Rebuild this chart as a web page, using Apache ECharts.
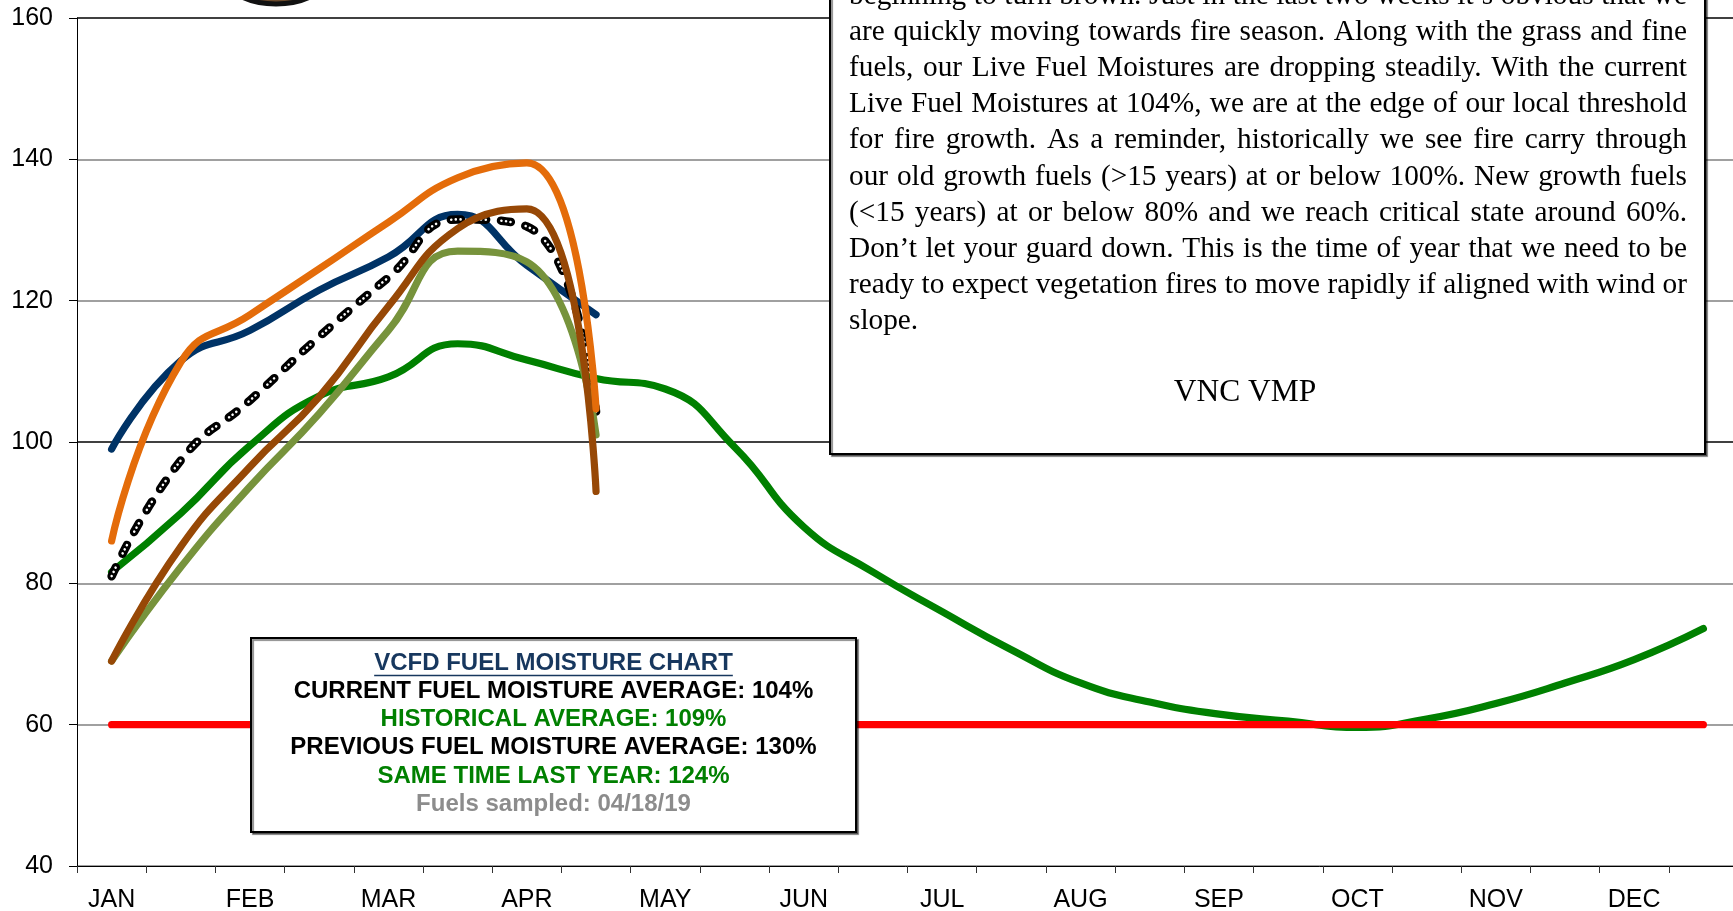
<!DOCTYPE html>
<html><head><meta charset="utf-8">
<script src="https://cdn.jsdelivr.net/npm/echarts@6/dist/echarts.min.js"></script>
<style>html,body{margin:0;padding:0;background:#fff;overflow:hidden}#c{width:1733px;height:911px}</style>
</head><body><div id="c"></div>
<script>
// ---------- data ----------
const months = ['JAN','FEB','MAR','APR','MAY','JUN','JUL','AUG','SEP','OCT','NOV','DEC'];
const yMin = 40, yMax = 160, yStep = 20;
// half-month sample points (two per month)
const seriesNavy   = [99, 111.5, 115.8, 121.5, 126.2, 132.2, 125, 118];
const seriesOrange = [86, 111.3, 118, 124.5, 131.1, 137.4, 139.5, 104.7];
const seriesCurrent= [81, 97.4, 105.9, 114.9, 123.3, 131.5, 130.5, 104.3];
const seriesBrown  = [69, 85.2, 96.5, 106.4, 119.2, 130.2, 133, 93];
const seriesOlive  = [69, 82.3, 93.7, 104, 115.8, 127, 125.5, 101];
const seriesHistorical = [81.6, 89.9, 99.5, 106.5, 109.2, 113.9, 111.6, 109, 107.5, 99.3, 88, 81.6, 76, 70.6, 65.9, 63.2, 61.5, 60.5, 59.6, 60.8, 63, 65.9, 69.2, 73.6];
const thresholdValue = 60;
const thresholdSeries = months.flatMap(() => [thresholdValue, thresholdValue]);

const noteLines = [
  'beginning to turn brown. Just in the last two weeks it\u2019s obvious that we',
  'are quickly moving towards fire season. Along with the grass and fine',
  'fuels, our Live Fuel Moistures are dropping steadily. With the current',
  'Live Fuel Moistures at 104%, we are at the edge of our local threshold',
  'for fire growth. As a reminder, historically we see fire carry through',
  'our old growth fuels (>15 years) at or below 100%. New growth fuels',
  '(<15 years) at or below 80% and we reach critical state around 60%.',
  'Don\u2019t let your guard down. This is the time of year that we need to be',
  'ready to expect vegetation fires to move rapidly if aligned with wind or',
  'slope.'
];
const noteSignature = 'VNC VMP';
const infoLines = [
  'VCFD FUEL MOISTURE CHART',
  'CURRENT FUEL MOISTURE AVERAGE: 104%',
  'HISTORICAL AVERAGE: 109%',
  'PREVIOUS FUEL MOISTURE AVERAGE: 130%',
  'SAME TIME LAST YEAR: 124%',
  'Fuels sampled: 04/18/19'
];
const infoColors = ['#17375E','#000000','#008000','#000000','#008000','#8C8C8C'];

// ---------- chart ----------
const categories = months.flatMap(m => [m, m + ' 15']);
const chart = echarts.init(document.getElementById('c'), null, {renderer:'canvas'});

const mctx = document.createElement('canvas').getContext('2d');
function tw(t, font){ mctx.font = font; return mctx.measureText(t).width; }

const serif = '"Liberation Serif","Times New Roman",serif';
const sans = '"Liberation Sans",Arial,sans-serif';

const graphics = [];
// logo fragment at top
graphics.push({type:'ellipse', shape:{cx:276, cy:-20, rx:48, ry:24}, style:{fill:'#6b4a2c', stroke:'#111', lineWidth:5}, z:100});

// note box
const nb = {x:830, y:-10, w:875, h:464};
graphics.push({type:'rect', shape:{x:nb.x, y:nb.y, width:nb.w, height:nb.h}, style:{fill:'#fff', stroke:'#000', lineWidth:2, shadowColor:'rgba(0,0,0,0.45)', shadowOffsetX:2, shadowOffsetY:2, shadowBlur:1}, z:100});
const textLeft = 849, textRight = 1687, textW = textRight - textLeft;
let maxNat = 0;
noteLines.forEach(l => { maxNat = Math.max(maxNat, tw(l, '100px ' + serif) / 100); });
const noteFs = Math.min(30, Math.floor(textW / maxNat * 10) / 10);
const noteFont = noteFs + 'px ' + serif;
const lineY0 = -4, lineStep = 36.2;
noteLines.forEach((line, k) => {
  const y = lineY0 + k * lineStep;
  const words = line.split(' ');
  const last = k === noteLines.length - 1;
  if (last || words.length < 2) {
    graphics.push({type:'text', x:textLeft, y, style:{text:line, font:noteFont, fill:'#000', verticalAlign:'middle', align:'left'}, z:101});
    return;
  }
  const widths = words.map(w => tw(w, noteFont));
  const sum = widths.reduce((a,b)=>a+b,0);
  const gap = (textW - sum) / (words.length - 1);
  let x = textLeft;
  words.forEach((w, j) => {
    graphics.push({type:'text', x, y, style:{text:w, font:noteFont, fill:'#000', verticalAlign:'middle', align:'left'}, z:101});
    x += widths[j] + gap;
  });
});
graphics.push({type:'text', x:1245, y:393, style:{text:noteSignature, font:'31.5px ' + serif, fill:'#000', verticalAlign:'middle', align:'center'}, z:101});

// info box
const ib = {x:251, y:638, w:605, h:194};
graphics.push({type:'rect', shape:{x:ib.x, y:ib.y, width:ib.w, height:ib.h}, style:{fill:'#fff', stroke:'#000', lineWidth:2, shadowColor:'rgba(0,0,0,0.45)', shadowOffsetX:2, shadowOffsetY:2, shadowBlur:1}, z:100});
const infoFont = 'bold 24px ' + sans;
const icx = ib.x + ib.w / 2;
infoLines.forEach((t, k) => {
  const y = 663.5 + k * 28.1;
  graphics.push({type:'text', x:icx, y, style:{text:t, font:infoFont, fill:infoColors[k], align:'center', verticalAlign:'middle'}, z:101});
  if (k === 0) {
    const w = tw(t, infoFont);
    graphics.push({type:'line', shape:{x1:icx - w/2, y1:675.5, x2:icx + w/2, y2:675.5}, style:{stroke:infoColors[0], lineWidth:1.6}, z:101});
  }
});

function lineSeries(name, data, color, z, extra) {
  return Object.assign({
    type:'line', name, data, smooth:0.5, symbol:'none', silent:true, z,
    lineStyle:{color, width:7.2, cap:'round', join:'round'}
  }, extra || {});
}

const option = {
  animation:false,
  backgroundColor:'#fff',
  grid:{left:77, top:18, width:1661, height:848, containLabel:false, outerBoundsMode:'none'},
  xAxis:{
    type:'category', data:categories, boundaryGap:true,
    axisLine:{show:true, lineStyle:{color:'#000', width:1}},
    axisTick:{show:true, interval:0, length:7, lineStyle:{color:'#333', width:1}},
    axisLabel:{interval:0, formatter:(v, i) => (i % 2 === 0 ? v : ''), color:'#000', fontSize:25, fontFamily:sans, margin:22},
    splitLine:{show:false}
  },
  yAxis:{
    type:'value', min:yMin, max:yMax, interval:yStep,
    axisLine:{show:true, lineStyle:{color:'#000', width:1}},
    axisTick:{show:true, length:8, lineStyle:{color:'#000', width:1}},
    axisLabel:{color:'#000', fontSize:25, fontFamily:sans, margin:24, padding:[4,0,0,0]},
    splitLine:{show:true, lineStyle:{color:['#808080','#808080','#808080','#000000','#808080','#808080','#000000'], width:1.5}}
  },
  series:[
    lineSeries('Historical average', seriesHistorical, '#008000', 2),
    lineSeries('Threshold', thresholdSeries, '#FF0000', 3, {smooth:false}),
    lineSeries('Series 1', seriesNavy, '#003366', 4),
    {type:'line', name:'Current', data:seriesCurrent, smooth:0.5, symbol:'none', silent:true, z:5,
      lineStyle:{color:'#000', width:8.5, cap:'round', join:'round', type:[10,15], dashOffset:0}},
    {type:'line', name:'Current (dots)', data:seriesCurrent, smooth:0.5, symbol:'none', silent:true, z:5,
      lineStyle:{color:'#fff', width:2.6, cap:'round', join:'round', type:[0.01,4.6,0.01,4.6,0.01,15.77], dashOffset:-0.4}},
    lineSeries('Series 4', seriesOlive, '#77933C', 6),
    lineSeries('Series 3', seriesBrown, '#974806', 7),
    lineSeries('Series 2', seriesOrange, '#E46C0A', 8)
  ],
  graphic:graphics
};
chart.setOption(option);
</script>
</body></html>
